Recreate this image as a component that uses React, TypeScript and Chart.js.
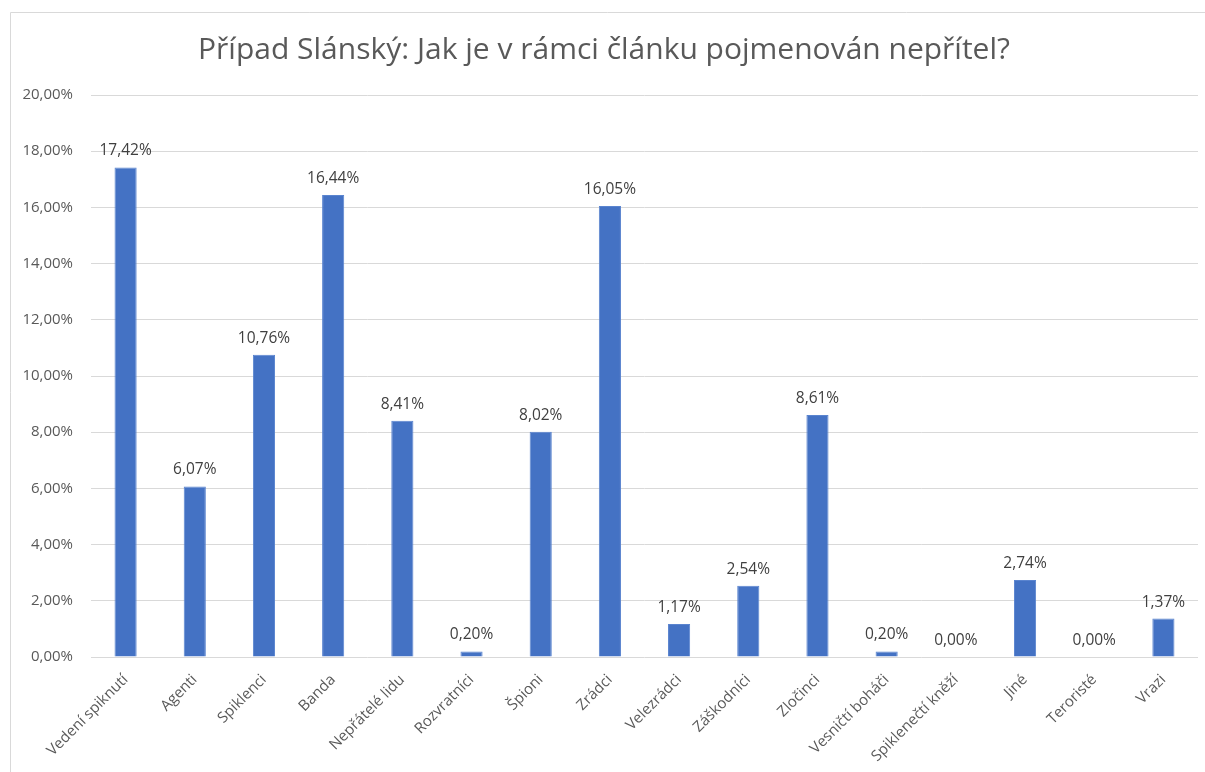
import React, { useEffect, useRef } from "react";
import { Chart, registerables } from "chart.js";

Chart.register(...registerables);

const categories = [
  "Vedení spiknutí",
  "Agenti",
  "Spiklenci",
  "Banda",
  "Nepřátelé lidu",
  "Rozvratníci",
  "Špioni",
  "Zrádci",
  "Velezrádci",
  "Záškodníci",
  "Zločinci",
  "Vesničtí boháči",
  "Spiklenečtí kněží",
  "Jiné",
  "Teroristé",
  "Vrazi",
];

const values = [17.42, 6.07, 10.76, 16.44, 8.41, 0.2, 8.02, 16.05, 1.17, 2.54, 8.61, 0.2, 0.0, 2.74, 0.0, 1.37];

const yTicks = { min: 0, max: 20, step: 2 };

const titleText = "Případ Slánský: Jak je v rámci článku pojmenován nepřítel?";

const FONT = "'Open Sans', 'Noto Sans', sans-serif";

const fmt = (v: number) => v.toFixed(2).replace(".", ",") + "%";

const borderPlugin = {
  id: "outerBorder",
  beforeDraw(chart: any) {
    const ctx = chart.ctx;
    ctx.save();
    ctx.strokeStyle = "#d9d9d9";
    ctx.lineWidth = 1;
    ctx.beginPath();
    ctx.moveTo(10.5, chart.height);
    ctx.lineTo(10.5, 12.5);
    ctx.lineTo(chart.width, 12.5);
    ctx.stroke();
    ctx.restore();
  },
};

const dataLabelPlugin = {
  id: "dataLabels",
  afterDatasetsDraw(chart: any) {
    const ctx = chart.ctx;
    const meta = chart.getDatasetMeta(0);
    ctx.save();
    ctx.font = `15.5px ${FONT}`;
    ctx.fillStyle = "#404040";
    ctx.textAlign = "center";
    ctx.textBaseline = "alphabetic";
    meta.data.forEach((bar: any, i: number) => {
      const v = chart.data.datasets[0].data[i] as number;
      ctx.fillText(fmt(v), bar.x, bar.y - 12);
    });
    ctx.restore();
  },
};

export default function App() {
  const ref = useRef<HTMLCanvasElement | null>(null);

  useEffect(() => {
    if (!ref.current) return;
    const chart = new Chart(ref.current, {
      type: "bar",
      data: {
        labels: categories,
        datasets: [
          {
            data: values,
            backgroundColor: "#4472c4",
            borderColor: "#5a84cf",
            borderWidth: 1,
            categoryPercentage: 1,
            barPercentage: 0.32,
          },
        ],
      },
      options: {
        animation: false,
        responsive: false,
        maintainAspectRatio: false,
        layout: { padding: { left: 10, right: 7, top: 12, bottom: 0 } },
        plugins: {
          legend: { display: false },
          tooltip: { enabled: false },
          title: {
            display: true,
            text: titleText,
            color: "#595959",
            font: { family: FONT, size: 30, weight: "normal" as any, lineHeight: 1.2 },
            padding: { top: 20, bottom: 27 },
          },
        },
        scales: {
          x: {
            grid: { display: false },
            border: { display: false },
            ticks: {
              color: "#595959",
              font: { family: FONT, size: 15 },
              maxRotation: 45,
              minRotation: 45,
              padding: 6,
              autoSkip: false,
            },
            afterFit(scale: any) {
              scale.height = 115;
            },
          },
          y: {
            min: yTicks.min,
            max: yTicks.max,
            grid: { color: "#d9d9d9", drawTicks: false, lineWidth: 1 },
            border: { display: false },
            ticks: {
              stepSize: yTicks.step,
              color: "#595959",
              font: { family: FONT, size: 15 },
              padding: 18,
              callback: (v: any) => fmt(Number(v)),
            },
            afterFit(scale: any) {
              scale.width = 81;
            },
          },
        },
      },
      plugins: [borderPlugin, dataLabelPlugin],
    });
    return () => chart.destroy();
  }, []);

  return (
    <div style={{ position: "absolute", left: 0, top: 0, width: 1205, height: 772, background: "#fff" }}>
      <canvas ref={ref} width={1205} height={772} style={{ display: "block" }} />
    </div>
  );
}
